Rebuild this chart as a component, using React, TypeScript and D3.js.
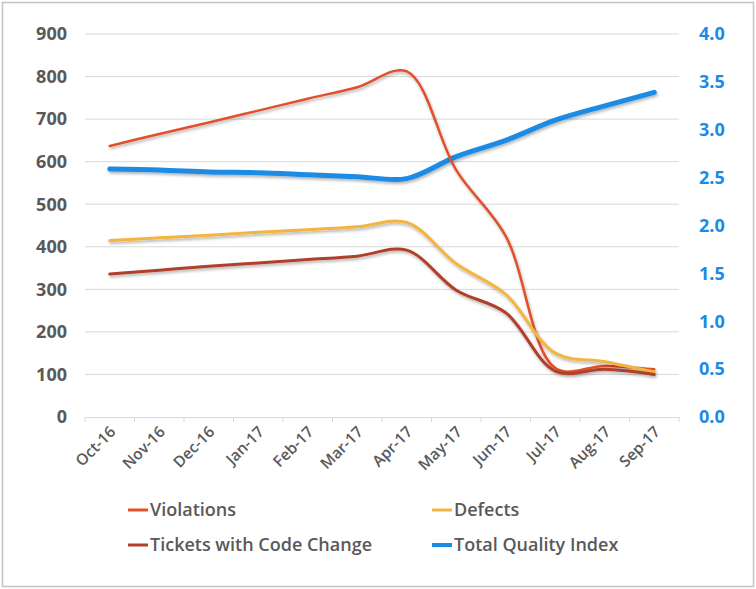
import React, { useEffect, useRef } from 'react';
import * as d3 from 'd3';

const months = ['Oct-16', 'Nov-16', 'Dec-16', 'Jan-17', 'Feb-17', 'Mar-17', 'Apr-17', 'May-17', 'Jun-17', 'Jul-17', 'Aug-17', 'Sep-17'];
const violations = [637, 665, 692, 720, 748, 775, 812, 580, 425, 115, 120, 112];
const defects = [415, 421, 427, 434, 440, 447, 457, 360, 288, 150, 130, 106];
const tickets = [336, 345, 354, 362, 370, 378, 392, 298, 245, 108, 112, 100];
const qualityIndex = [2.59, 2.58, 2.56, 2.55, 2.53, 2.51, 2.49, 2.72, 2.89, 3.10, 3.25, 3.39];
const leftTicks = [0, 100, 200, 300, 400, 500, 600, 700, 800, 900];
const rightTicks = [0, 0.5, 1, 1.5, 2, 2.5, 3, 3.5, 4];

const series = [
  { name: 'Violations', values: violations, color: '#E2502A', width: 2.5, axis: 'left' },
  { name: 'Defects', values: defects, color: '#F3B53F', width: 3, axis: 'left' },
  { name: 'Tickets with Code Change', values: tickets, color: '#B0402A', width: 3, axis: 'left' },
  { name: 'Total Quality Index', values: qualityIndex, color: '#1C8BE6', width: 5, axis: 'right' },
];

const App = () => {
  const svgRef = useRef<SVGSVGElement>(null);

  useEffect(() => {
    const svg = d3.select(svgRef.current);
    svg.selectAll('*').remove();

    const width = 756;
    const height = 589;
    const margin = { top: 34, left: 85, right: 679, bottom: 417 };
    const font = '"Open Sans", "Liberation Sans", sans-serif';
    const gray = '#595959';

    svg.append('rect')
      .attr('x', 2.5).attr('y', 2.5)
      .attr('width', width - 5).attr('height', height - 5)
      .attr('fill', '#fff').attr('stroke', '#C4C4C4').attr('stroke-width', 1.5);

    const defs = svg.append('defs');
    const shadow = defs.append('filter').attr('id', 'shadow')
      .attr('x', '-10%').attr('y', '-10%').attr('width', '120%').attr('height', '130%');
    shadow.append('feDropShadow')
      .attr('dx', 1).attr('dy', 2).attr('stdDeviation', 1.5)
      .attr('flood-color', '#000').attr('flood-opacity', 0.3);
    defs.append('clipPath').attr('id', 'rclip')
      .append('rect').attr('x', 0).attr('y', 0).attr('width', 726).attr('height', height);

    const x = d3.scaleBand().domain(months).range([margin.left, margin.right]);
    const y = d3.scaleLinear().domain([0, 900]).range([margin.bottom, margin.top]);
    const y2 = d3.scaleLinear().domain([0, 4]).range([margin.bottom, margin.top]);
    const cx = (m: string) => (x(m) as number) + x.bandwidth() / 2;

    // grid
    svg.append('g')
      .selectAll('line')
      .data(leftTicks.filter(t => t > 0))
      .join('line')
      .attr('x1', margin.left).attr('x2', margin.right)
      .attr('y1', d => y(d)).attr('y2', d => y(d))
      .attr('stroke', '#D9D9D9').attr('stroke-width', 1);

    // x axis
    const xAxis = svg.append('g')
      .attr('transform', `translate(0,${margin.bottom})`)
      .call(d3.axisBottom(x).tickSize(0).tickFormat(() => ''));
    xAxis.select('.domain').attr('stroke', '#D9D9D9');
    svg.append('g')
      .selectAll('line')
      .data(d3.range(months.length + 1))
      .join('line')
      .attr('x1', i => margin.left + i * x.step()).attr('x2', i => margin.left + i * x.step())
      .attr('y1', margin.bottom).attr('y2', margin.bottom + 5)
      .attr('stroke', '#D9D9D9');

    svg.append('g')
      .selectAll('text')
      .data(months)
      .join('text')
      .attr('transform', d => `translate(${cx(d) + 3},${margin.bottom + 12}) rotate(-45)`)
      .attr('text-anchor', 'end')
      .attr('dy', '0.35em')
      .attr('fill', gray)
      .attr('font-family', font)
      .attr('font-weight', 600)
      .attr('font-size', 15.5)
      .text(d => d);

    // left axis
    svg.append('g')
      .selectAll('text')
      .data(leftTicks)
      .join('text')
      .attr('x', 67)
      .attr('y', d => y(d))
      .attr('dy', '0.35em')
      .attr('text-anchor', 'end')
      .attr('fill', gray)
      .attr('font-family', font)
      .attr('font-weight', 700)
      .attr('font-size', 18)
      .text(d => d);

    // right axis
    svg.append('g')
      .attr('clip-path', 'url(#rclip)')
      .selectAll('text')
      .data(rightTicks)
      .join('text')
      .attr('x', 699)
      .attr('y', d => y2(d))
      .attr('dy', '0.35em')
      .attr('fill', '#1C8BE6')
      .attr('font-family', font)
      .attr('font-weight', 700)
      .attr('font-size', 18)
      .text(d => d3.format('.1f')(d));

    // lines
    const drawOrder = [series[3], series[0], series[1], series[2]];
    drawOrder.forEach(s => {
      const sy = s.axis === 'left' ? y : y2;
      const line = d3.line<number>()
        .x((d, i) => cx(months[i]))
        .y(d => sy(d))
        .curve(d3.curveCatmullRom.alpha(0.5));
      svg.append('path')
        .datum(s.values)
        .attr('d', line)
        .attr('fill', 'none')
        .attr('stroke', s.color)
        .attr('stroke-width', s.width)
        .attr('stroke-linecap', 'round')
        .attr('filter', 'url(#shadow)');
    });

    // legend
    const legendPos = [[128, 510], [432, 510], [128, 545], [432, 545]];
    const legend = svg.append('g')
      .selectAll('g')
      .data(series)
      .join('g')
      .attr('transform', (d, i) => `translate(${legendPos[i][0]},${legendPos[i][1]})`);
    legend.append('line')
      .attr('x1', 0).attr('x2', 20)
      .attr('stroke', d => d.color)
      .attr('stroke-width', d => (d.axis === 'right' ? 4 : 3));
    legend.append('text')
      .attr('x', 22)
      .attr('dy', '0.35em')
      .attr('fill', gray)
      .attr('font-family', font)
      .attr('font-weight', 600)
      .attr('font-size', 18)
      .text(d => d.name);
  }, []);

  return (
    <svg ref={svgRef} width={756} height={589} viewBox="0 0 756 589"
      style={{ position: 'absolute', left: 0, top: 0, display: 'block' }} />
  );
};

export default App;
